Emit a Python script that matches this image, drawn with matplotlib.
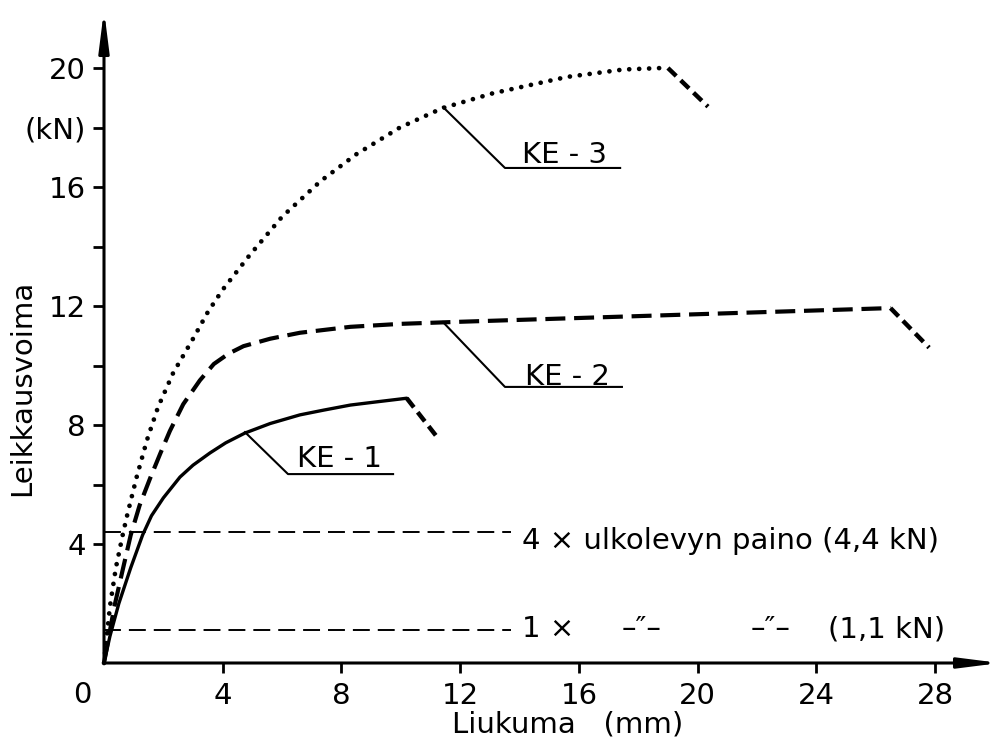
import matplotlib
matplotlib.use("Agg")
import matplotlib.pyplot as plt

plt.rcParams['font.family'] = ['DejaVu Sans']

# Load–slip curves (slip in mm, shear force in kN)
ke1_x = [0, 0.2, 0.5, 0.9, 1.3, 1.6, 2.0, 2.56, 3.0, 3.57, 4.1, 4.75, 5.6, 6.6, 7.4, 8.3, 9.2, 10.2]
ke1_y = [0, 0.9, 2.0, 3.2, 4.3, 4.95, 5.55, 6.25, 6.65, 7.06, 7.4, 7.73, 8.05, 8.34, 8.5, 8.67, 8.78, 8.9]

ke2_x = [0, 0.35, 0.6, 0.9, 1.2, 1.55, 1.9, 2.22, 2.67, 3.23, 3.7, 4.2, 4.7, 5.6, 6.6, 8.3, 10.0, 12.0, 26.5]
ke2_y = [0, 1.9, 3.0, 4.3, 5.3, 6.2, 7.05, 7.8, 8.7, 9.5, 10.05, 10.4, 10.65, 10.9, 11.1, 11.3, 11.4, 11.47, 11.93]

ke3_x = [0, 0.2, 0.4, 0.65, 0.8, 1.1, 1.45, 1.82, 2.33, 3.0, 3.5, 4.0, 4.9, 6.0, 7.3, 8.5, 9.97, 11.4, 13.1, 15.6, 17.5, 18.8]
ke3_y = [0, 1.9, 3.2, 4.4, 5.05, 6.25, 7.5, 8.6, 9.75, 10.9, 11.8, 12.55, 13.7, 15.0, 16.2, 17.1, 18.0, 18.65, 19.15, 19.7, 19.95, 20.0]

# Failure branches after the maximum load
ke1_fail_x = [10.2, 11.25]
ke1_fail_y = [8.9, 7.56]
ke2_fail_x = [26.5, 27.8]
ke2_fail_y = [11.93, 10.6]
ke3_fail_x = [19.0, 20.35]
ke3_fail_y = [20.0, 18.7]

# Reference load levels (kN)
ref_levels = [4.4, 1.1]
ref_end_x = 13.7

x_ticks = [4, 8, 12, 16, 20, 24, 28]
y_ticks = [4, 6, 8, 10, 12, 14, 16, 18, 20]
y_tick_labels = ['4', '', '8', '', '12', '', '16', '(kN)', '20']

FS = 21
XMAX = 896 / 29.68
YMAX = 653 / 29.75

fig = plt.figure(figsize=(10.02, 7.5), dpi=100)
fig.patch.set_facecolor('white')
ax = fig.add_axes([104 / 1002, 87 / 750, 896 / 1002, 653 / 750])
ax.set_xlim(0, XMAX)
ax.set_ylim(0, YMAX)
for s in ax.spines.values():
    s.set_visible(False)

# Axes drawn as arrows
arrow_kw = dict(arrowstyle='-|>,head_length=1.5,head_width=0.19', lw=2.2,
                color='black', shrinkA=0, shrinkB=0, mutation_scale=16)
ax.annotate('', xy=(XMAX, 0), xytext=(0, 0), arrowprops=arrow_kw, annotation_clip=False)
ax.annotate('', xy=(0, YMAX), xytext=(0, 0), arrowprops=arrow_kw, annotation_clip=False)

ax.set_xticks(x_ticks)
ax.set_xticklabels([str(t) for t in x_ticks])
ax.set_yticks(y_ticks)
ax.set_yticklabels(y_tick_labels)
ax.tick_params(axis='x', direction='out', length=7, width=2, pad=7, labelsize=FS)
ax.tick_params(axis='y', direction='out', length=8, width=2, pad=5, labelsize=FS)
fig.text(82 / 1002, 1 - 695 / 750, '0', ha='center', va='center', fontsize=FS)

# Curves
ax.plot(ke1_x, ke1_y, color='black', lw=2.4, solid_capstyle='round', clip_on=False)
ax.plot(ke2_x, ke2_y, color='black', lw=3.0, linestyle=(0, (4.8, 2.1)),
        dash_capstyle='butt', clip_on=False)
ax.plot(ke3_x, ke3_y, color='black', lw=3.4, linestyle=(0, (0.01, 2.1)),
        dash_capstyle='round', clip_on=False)
for fx, fy in [(ke1_fail_x, ke1_fail_y), (ke2_fail_x, ke2_fail_y), (ke3_fail_x, ke3_fail_y)]:
    ax.plot(fx, fy, color='black', lw=3.2, linestyle=(0, (2.6, 1.4)),
            dash_capstyle='butt', clip_on=False)

# Reference load levels
for lvl in ref_levels:
    ax.plot([0, ref_end_x], [lvl, lvl], color='black', lw=1.4,
            linestyle=(0, (8.7, 4.1)), dash_capstyle='butt')
ax.text(14.08, 3.82, '4 × ulkolevyn paino (4,4 kN)', ha='left', va='baseline', fontsize=FS)
ax.text(14.08, 0.86, '1 ×', ha='left', va='baseline', fontsize=FS)
ax.text(18.1, 0.86, '–″–', ha='center', va='baseline', fontsize=FS)
ax.text(22.45, 0.86, '–″–', ha='center', va='baseline', fontsize=FS)
ax.text(24.4, 0.86, '(1,1 kN)', ha='left', va='baseline', fontsize=FS)

# Curve labels with leader lines
labels = [
    ('KE - 1', [4.75, 6.2, 9.74], [7.76, 6.35, 6.35], 7.92, 6.59),
    ('KE - 2', [11.42, 13.51, 17.45], [11.46, 9.28, 9.28], 15.63, 9.34),
    ('KE - 3', [11.42, 13.51, 17.39], [18.69, 16.64, 16.64], 15.53, 16.81),
]
for txt, lx, ly, tx, ty in labels:
    ax.plot(lx, ly, color='black', lw=1.5)
    ax.text(tx, ty, txt, ha='center', va='baseline', fontsize=FS)

fig.text(568 / 1002, 1 - 733 / 750, 'Liukuma   (mm)', ha='center', va='baseline', fontsize=FS)
fig.text(22 / 1002, 1 - 388 / 750, 'Leikkausvoima', ha='center', va='center',
         rotation=90, fontsize=FS)

fig.savefig('out.png', dpi=100, facecolor='white')
